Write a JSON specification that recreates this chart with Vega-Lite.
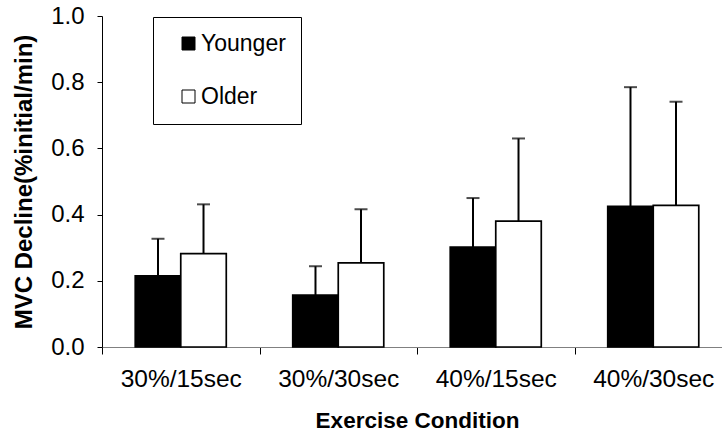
{
  "$schema": "https://vega.github.io/schema/vega-lite/v6.json",
  "width": 620,
  "height": 331,
  "autosize": {"type": "none"},
  "padding": {"left": 102, "top": 16, "right": 0, "bottom": 85},
  "background": "white",
  "config": {
    "view": {"stroke": null},
    "font": "Liberation Sans",
    "axis": {"labelColor": "black", "titleColor": "black", "tickColor": "black", "grid": false}
  },
  "data": {
    "values": [
      {"cond": "30%/15sec", "group": "Younger", "mean": 0.215, "upper": 0.327},
      {"cond": "30%/15sec", "group": "Older", "mean": 0.282, "upper": 0.431},
      {"cond": "30%/30sec", "group": "Younger", "mean": 0.157, "upper": 0.244},
      {"cond": "30%/30sec", "group": "Older", "mean": 0.254, "upper": 0.416},
      {"cond": "40%/15sec", "group": "Younger", "mean": 0.302, "upper": 0.450},
      {"cond": "40%/15sec", "group": "Older", "mean": 0.380, "upper": 0.630},
      {"cond": "40%/30sec", "group": "Younger", "mean": 0.425, "upper": 0.785},
      {"cond": "40%/30sec", "group": "Older", "mean": 0.428, "upper": 0.741}
    ]
  },
  "encoding": {
    "x": {
      "field": "cond", "type": "nominal",
      "sort": ["30%/15sec", "30%/30sec", "40%/15sec", "40%/30sec"],
      "scale": {"range": [0, 630], "paddingInner": 0, "paddingOuter": 0},
      "axis": {
        "title": "Exercise Condition", "titleFontSize": 22.5, "titleFontWeight": "bold", "titlePadding": 19,
        "labelFontSize": 24.5, "labelAngle": 0, "labelPadding": 13,
        "tickBand": "extent", "tickSize": 7, "domainColor": "#808080", "labelFontWeight": "normal"
      }
    },
    "xOffset": {
      "field": "group", "type": "nominal",
      "sort": ["Younger", "Older"],
      "scale": {"domain": ["Younger", "Older"], "paddingInner": 0, "paddingOuter": 0.73}
    }
  },
  "layer": [
    {
      "mark": {"type": "bar", "stroke": "black", "strokeWidth": 1.7},
      "encoding": {
        "y": {
          "field": "mean", "type": "quantitative",
          "scale": {"domain": [0, 1], "nice": false},
          "axis": {
            "title": "MVC Decline(%initial/min)", "titleFontSize": 24, "titleFontWeight": "bold", "titlePadding": 14,
            "values": [0, 0.2, 0.4, 0.6, 0.8, 1.0], "format": ".1f",
            "labelFontSize": 24, "labelPadding": 13, "tickSize": 5, "domainColor": "black"
          }
        },
        "fill": {
          "field": "group", "type": "nominal",
          "scale": {"domain": ["Younger", "Older"], "range": ["black", "white"]},
          "legend": {
            "title": null, "orient": "none", "legendX": 51, "legendY": 1,
            "direction": "vertical",
            "symbolType": "square", "symbolSize": 169, "symbolStrokeColor": "black", "symbolStrokeWidth": 1,
            "symbolOffset": 9, "labelOffset": 1, "labelFontSize": 23, "labelColor": "black",
            "rowPadding": 29, "padding": 15, "strokeColor": "black", "fillColor": "white"
          }
        }
      }
    },
    {
      "mark": {"type": "rule", "color": "black", "strokeWidth": 2},
      "encoding": {
        "y": {"field": "mean", "type": "quantitative"},
        "y2": {"field": "upper"}
      }
    },
    {
      "mark": {"type": "tick", "orient": "horizontal", "color": "black", "thickness": 2, "size": 13},
      "encoding": {
        "y": {"field": "upper", "type": "quantitative"}
      }
    }
  ]
}
